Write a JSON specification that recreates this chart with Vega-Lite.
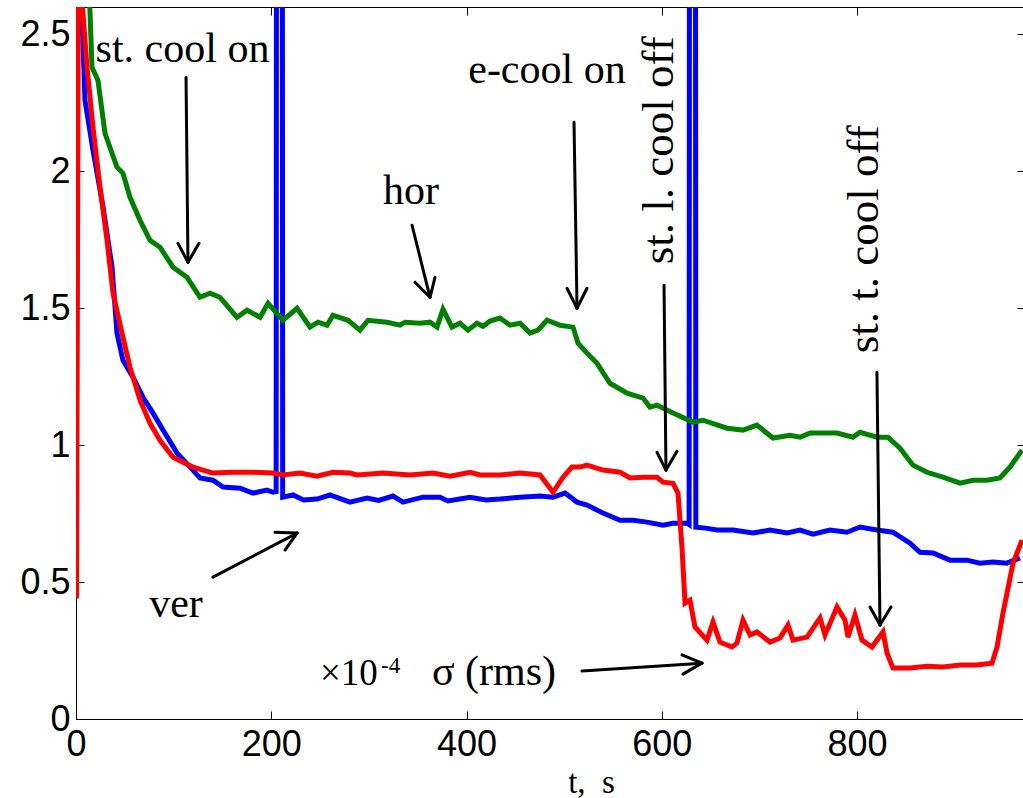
{
  "$schema": "https://vega.github.io/schema/vega-lite/v6.json",
  "width": 947,
  "height": 712,
  "autosize": "none",
  "padding": {"left": 76, "top": 7, "right": 0, "bottom": 79},
  "background": "white",
  "config": {
    "view": {"stroke": "black", "strokeWidth": 1},
    "axis": {"grid": false, "domainColor": "black", "tickColor": "black", "labelColor": "black", "titleColor": "black", "labelFont": "Liberation Sans", "labelFontSize": 36, "tickWidth": 1, "domainWidth": 1}
  },
  "datasets": {
    "curves": [
      {"s": "ver", "t": 2, "v": 3.0}, {"s": "ver", "t": 9.2, "v": 2.259}, {"s": "ver", "t": 17.4, "v": 2.077}, {"s": "ver", "t": 27.7, "v": 1.869}, {"s": "ver", "t": 36.9, "v": 1.65}, {"s": "ver", "t": 42.0, "v": 1.409}, {"s": "ver", "t": 48.1, "v": 1.31}, {"s": "ver", "t": 58.4, "v": 1.248}, {"s": "ver", "t": 68.6, "v": 1.175}, {"s": "ver", "t": 78.9, "v": 1.117}, {"s": "ver", "t": 89.1, "v": 1.055}, {"s": "ver", "t": 103.5, "v": 0.971}, {"s": "ver", "t": 119.8, "v": 0.909}, {"s": "ver", "t": 127.0, "v": 0.88}, {"s": "ver", "t": 140.3, "v": 0.872}, {"s": "ver", "t": 150.6, "v": 0.847}, {"s": "ver", "t": 168.0, "v": 0.843}, {"s": "ver", "t": 181.3, "v": 0.825}, {"s": "ver", "t": 195.6, "v": 0.836}, {"s": "ver", "t": 201.8, "v": 0.828}, {"s": "ver", "t": 205.0, "v": 0.83}, {"s": "ver", "t": 205.4, "v": 3.2}, {"s": "ver", "t": 211.3, "v": 3.2}, {"s": "ver", "t": 211.7, "v": 0.81}, {"s": "ver", "t": 222.3, "v": 0.818}, {"s": "ver", "t": 233.0, "v": 0.80}, {"s": "ver", "t": 246.9, "v": 0.803}, {"s": "ver", "t": 260.2, "v": 0.818}, {"s": "ver", "t": 280.6, "v": 0.792}, {"s": "ver", "t": 298.1, "v": 0.807}, {"s": "ver", "t": 310.0, "v": 0.798}, {"s": "ver", "t": 324.7, "v": 0.814}, {"s": "ver", "t": 334.9, "v": 0.792}, {"s": "ver", "t": 355.4, "v": 0.81}, {"s": "ver", "t": 372.8, "v": 0.81}, {"s": "ver", "t": 381.0, "v": 0.796}, {"s": "ver", "t": 403.6, "v": 0.81}, {"s": "ver", "t": 420.0, "v": 0.80}, {"s": "ver", "t": 434.3, "v": 0.803}, {"s": "ver", "t": 454.8, "v": 0.81}, {"s": "ver", "t": 475.3, "v": 0.814}, {"s": "ver", "t": 488.6, "v": 0.81}, {"s": "ver", "t": 500.9, "v": 0.825}, {"s": "ver", "t": 513.2, "v": 0.792}, {"s": "ver", "t": 523.4, "v": 0.781}, {"s": "ver", "t": 539.8, "v": 0.752}, {"s": "ver", "t": 557.2, "v": 0.726}, {"s": "ver", "t": 570.5, "v": 0.726}, {"s": "ver", "t": 584.9, "v": 0.719}, {"s": "ver", "t": 601.3, "v": 0.708}, {"s": "ver", "t": 611.5, "v": 0.715}, {"s": "ver", "t": 625.8, "v": 0.715}, {"s": "ver", "t": 628.0, "v": 0.71}, {"s": "ver", "t": 628.4, "v": 3.2}, {"s": "ver", "t": 634.5, "v": 3.2}, {"s": "ver", "t": 634.9, "v": 0.70}, {"s": "ver", "t": 645.0, "v": 0.697}, {"s": "ver", "t": 656.6, "v": 0.69}, {"s": "ver", "t": 673.0, "v": 0.69}, {"s": "ver", "t": 693.4, "v": 0.679}, {"s": "ver", "t": 710.8, "v": 0.69}, {"s": "ver", "t": 728.3, "v": 0.679}, {"s": "ver", "t": 741.6, "v": 0.69}, {"s": "ver", "t": 754.9, "v": 0.675}, {"s": "ver", "t": 772.3, "v": 0.69}, {"s": "ver", "t": 789.7, "v": 0.682}, {"s": "ver", "t": 803.0, "v": 0.701}, {"s": "ver", "t": 820.4, "v": 0.69}, {"s": "ver", "t": 836.8, "v": 0.682}, {"s": "ver", "t": 854.3, "v": 0.642}, {"s": "ver", "t": 864.5, "v": 0.609}, {"s": "ver", "t": 877.8, "v": 0.606}, {"s": "ver", "t": 895.2, "v": 0.58}, {"s": "ver", "t": 912.6, "v": 0.58}, {"s": "ver", "t": 925.9, "v": 0.569}, {"s": "ver", "t": 939.3, "v": 0.573}, {"s": "ver", "t": 953.6, "v": 0.569}, {"s": "ver", "t": 966.9, "v": 0.588},

      {"s": "hor", "t": 10.0, "v": 3.0}, {"s": "hor", "t": 16.4, "v": 2.38}, {"s": "hor", "t": 22.5, "v": 2.332}, {"s": "hor", "t": 29.7, "v": 2.139}, {"s": "hor", "t": 36.9, "v": 2.066}, {"s": "hor", "t": 42.0, "v": 2.015}, {"s": "hor", "t": 48.1, "v": 1.993}, {"s": "hor", "t": 55.3, "v": 1.905}, {"s": "hor", "t": 65.6, "v": 1.821}, {"s": "hor", "t": 75.8, "v": 1.748}, {"s": "hor", "t": 86.0, "v": 1.723}, {"s": "hor", "t": 99.4, "v": 1.65}, {"s": "hor", "t": 113.7, "v": 1.613}, {"s": "hor", "t": 127.0, "v": 1.54}, {"s": "hor", "t": 137.3, "v": 1.555}, {"s": "hor", "t": 147.5, "v": 1.54}, {"s": "hor", "t": 164.9, "v": 1.467}, {"s": "hor", "t": 175.2, "v": 1.493}, {"s": "hor", "t": 188.5, "v": 1.467}, {"s": "hor", "t": 196.7, "v": 1.518}, {"s": "hor", "t": 212.0, "v": 1.456}, {"s": "hor", "t": 226.4, "v": 1.5}, {"s": "hor", "t": 239.7, "v": 1.431}, {"s": "hor", "t": 247.9, "v": 1.449}, {"s": "hor", "t": 257.1, "v": 1.438}, {"s": "hor", "t": 263.2, "v": 1.474}, {"s": "hor", "t": 278.6, "v": 1.456}, {"s": "hor", "t": 290.9, "v": 1.42}, {"s": "hor", "t": 299.1, "v": 1.456}, {"s": "hor", "t": 318.5, "v": 1.449}, {"s": "hor", "t": 331.9, "v": 1.438}, {"s": "hor", "t": 337.0, "v": 1.449}, {"s": "hor", "t": 352.4, "v": 1.445}, {"s": "hor", "t": 362.6, "v": 1.449}, {"s": "hor", "t": 369.8, "v": 1.431}, {"s": "hor", "t": 375.9, "v": 1.496}, {"s": "hor", "t": 385.1, "v": 1.431}, {"s": "hor", "t": 393.3, "v": 1.445}, {"s": "hor", "t": 401.5, "v": 1.42}, {"s": "hor", "t": 410.7, "v": 1.445}, {"s": "hor", "t": 416.9, "v": 1.434}, {"s": "hor", "t": 424.1, "v": 1.453}, {"s": "hor", "t": 434.3, "v": 1.464}, {"s": "hor", "t": 444.5, "v": 1.438}, {"s": "hor", "t": 454.8, "v": 1.445}, {"s": "hor", "t": 465.0, "v": 1.409}, {"s": "hor", "t": 473.2, "v": 1.42}, {"s": "hor", "t": 482.4, "v": 1.456}, {"s": "hor", "t": 495.7, "v": 1.438}, {"s": "hor", "t": 509.1, "v": 1.431}, {"s": "hor", "t": 514.2, "v": 1.372}, {"s": "hor", "t": 523.4, "v": 1.336}, {"s": "hor", "t": 533.7, "v": 1.299}, {"s": "hor", "t": 547.0, "v": 1.226}, {"s": "hor", "t": 564.4, "v": 1.19}, {"s": "hor", "t": 580.8, "v": 1.172}, {"s": "hor", "t": 587.9, "v": 1.139}, {"s": "hor", "t": 595.1, "v": 1.146}, {"s": "hor", "t": 611.5, "v": 1.117}, {"s": "hor", "t": 632.0, "v": 1.084}, {"s": "hor", "t": 642.2, "v": 1.091}, {"s": "hor", "t": 666.8, "v": 1.062}, {"s": "hor", "t": 683.2, "v": 1.055}, {"s": "hor", "t": 697.5, "v": 1.073}, {"s": "hor", "t": 713.9, "v": 1.026}, {"s": "hor", "t": 731.3, "v": 1.036}, {"s": "hor", "t": 741.6, "v": 1.029}, {"s": "hor", "t": 751.8, "v": 1.044}, {"s": "hor", "t": 765.1, "v": 1.044}, {"s": "hor", "t": 779.5, "v": 1.044}, {"s": "hor", "t": 795.9, "v": 1.029}, {"s": "hor", "t": 803.0, "v": 1.047}, {"s": "hor", "t": 820.4, "v": 1.029}, {"s": "hor", "t": 831.7, "v": 1.029}, {"s": "hor", "t": 844.0, "v": 0.989}, {"s": "hor", "t": 857.3, "v": 0.927}, {"s": "hor", "t": 871.7, "v": 0.901}, {"s": "hor", "t": 888.0, "v": 0.883}, {"s": "hor", "t": 905.5, "v": 0.861}, {"s": "hor", "t": 918.8, "v": 0.872}, {"s": "hor", "t": 933.1, "v": 0.872}, {"s": "hor", "t": 946.4, "v": 0.88}, {"s": "hor", "t": 956.7, "v": 0.92}, {"s": "hor", "t": 969.0, "v": 0.982},

      {"s": "rms", "t": 0.5, "v": 0.44}, {"s": "rms", "t": 2.5, "v": 2.8}, {"s": "rms", "t": 11.3, "v": 2.38}, {"s": "rms", "t": 17.4, "v": 2.161}, {"s": "rms", "t": 24.6, "v": 1.942}, {"s": "rms", "t": 31.8, "v": 1.748}, {"s": "rms", "t": 37.9, "v": 1.555}, {"s": "rms", "t": 47.1, "v": 1.409}, {"s": "rms", "t": 55.3, "v": 1.285}, {"s": "rms", "t": 65.6, "v": 1.164}, {"s": "rms", "t": 75.8, "v": 1.08}, {"s": "rms", "t": 86.0, "v": 1.018}, {"s": "rms", "t": 99.4, "v": 0.956}, {"s": "rms", "t": 119.8, "v": 0.92}, {"s": "rms", "t": 140.3, "v": 0.898}, {"s": "rms", "t": 160.8, "v": 0.901}, {"s": "rms", "t": 181.3, "v": 0.901}, {"s": "rms", "t": 201.8, "v": 0.898}, {"s": "rms", "t": 212.0, "v": 0.891}, {"s": "rms", "t": 229.4, "v": 0.898}, {"s": "rms", "t": 246.9, "v": 0.887}, {"s": "rms", "t": 263.2, "v": 0.901}, {"s": "rms", "t": 280.6, "v": 0.898}, {"s": "rms", "t": 287.8, "v": 0.891}, {"s": "rms", "t": 314.5, "v": 0.898}, {"s": "rms", "t": 342.1, "v": 0.891}, {"s": "rms", "t": 365.7, "v": 0.898}, {"s": "rms", "t": 383.1, "v": 0.887}, {"s": "rms", "t": 403.6, "v": 0.901}, {"s": "rms", "t": 413.8, "v": 0.891}, {"s": "rms", "t": 434.3, "v": 0.891}, {"s": "rms", "t": 454.8, "v": 0.898}, {"s": "rms", "t": 475.3, "v": 0.891}, {"s": "rms", "t": 488.6, "v": 0.828}, {"s": "rms", "t": 498.8, "v": 0.883}, {"s": "rms", "t": 508.0, "v": 0.92}, {"s": "rms", "t": 516.2, "v": 0.92}, {"s": "rms", "t": 523.4, "v": 0.927}, {"s": "rms", "t": 539.8, "v": 0.909}, {"s": "rms", "t": 557.2, "v": 0.901}, {"s": "rms", "t": 567.5, "v": 0.88}, {"s": "rms", "t": 580.8, "v": 0.883}, {"s": "rms", "t": 595.1, "v": 0.883}, {"s": "rms", "t": 601.3, "v": 0.865}, {"s": "rms", "t": 611.5, "v": 0.861}, {"s": "rms", "t": 616.6, "v": 0.825}, {"s": "rms", "t": 620.7, "v": 0.628}, {"s": "rms", "t": 623.8, "v": 0.423}, {"s": "rms", "t": 628.9, "v": 0.434}, {"s": "rms", "t": 634.0, "v": 0.336}, {"s": "rms", "t": 646.3, "v": 0.288}, {"s": "rms", "t": 652.5, "v": 0.354}, {"s": "rms", "t": 659.6, "v": 0.281}, {"s": "rms", "t": 671.9, "v": 0.263}, {"s": "rms", "t": 677.0, "v": 0.277}, {"s": "rms", "t": 683.2, "v": 0.361}, {"s": "rms", "t": 690.4, "v": 0.307}, {"s": "rms", "t": 697.5, "v": 0.318}, {"s": "rms", "t": 710.8, "v": 0.281}, {"s": "rms", "t": 721.1, "v": 0.296}, {"s": "rms", "t": 729.3, "v": 0.343}, {"s": "rms", "t": 734.4, "v": 0.288}, {"s": "rms", "t": 748.8, "v": 0.299}, {"s": "rms", "t": 762.1, "v": 0.369}, {"s": "rms", "t": 767.2, "v": 0.307}, {"s": "rms", "t": 779.5, "v": 0.409}, {"s": "rms", "t": 787.7, "v": 0.361}, {"s": "rms", "t": 790.7, "v": 0.299}, {"s": "rms", "t": 797.9, "v": 0.38}, {"s": "rms", "t": 805.1, "v": 0.288}, {"s": "rms", "t": 815.3, "v": 0.263}, {"s": "rms", "t": 826.6, "v": 0.318}, {"s": "rms", "t": 830.7, "v": 0.241}, {"s": "rms", "t": 836.8, "v": 0.186}, {"s": "rms", "t": 854.3, "v": 0.186}, {"s": "rms", "t": 871.7, "v": 0.193}, {"s": "rms", "t": 888.0, "v": 0.19}, {"s": "rms", "t": 905.5, "v": 0.197}, {"s": "rms", "t": 922.9, "v": 0.197}, {"s": "rms", "t": 938.2, "v": 0.204}, {"s": "rms", "t": 943.4, "v": 0.263}, {"s": "rms", "t": 949.5, "v": 0.387}, {"s": "rms", "t": 959.8, "v": 0.569}, {"s": "rms", "t": 969.0, "v": 0.653}
    ],
    "arrows": [
      {"x1": 112.7, "y1": 2.343, "x2": 114.7, "y2": 1.668}, {"x1": 104.5, "y1": 1.737, "x2": 114.7, "y2": 1.668}, {"x1": 126.0, "y1": 1.737, "x2": 114.7, "y2": 1.668},
      {"x1": 344.2, "y1": 1.803, "x2": 362.6, "y2": 1.54}, {"x1": 347.2, "y1": 1.595, "x2": 362.6, "y2": 1.54}, {"x1": 367.7, "y1": 1.613, "x2": 362.6, "y2": 1.54},
      {"x1": 510.1, "y1": 2.179, "x2": 513.2, "y2": 1.5}, {"x1": 502.9, "y1": 1.573, "x2": 513.2, "y2": 1.5}, {"x1": 523.4, "y1": 1.573, "x2": 513.2, "y2": 1.5},
      {"x1": 602.3, "y1": 1.584, "x2": 604.3, "y2": 0.909}, {"x1": 595.1, "y1": 0.974, "x2": 604.3, "y2": 0.909}, {"x1": 615.6, "y1": 0.978, "x2": 604.3, "y2": 0.909},
      {"x1": 820.4, "y1": 1.266, "x2": 823.5, "y2": 0.343}, {"x1": 813.3, "y1": 0.409, "x2": 823.5, "y2": 0.343}, {"x1": 834.8, "y1": 0.409, "x2": 823.5, "y2": 0.343},
      {"x1": 140.3, "y1": 0.518, "x2": 226.4, "y2": 0.679}, {"x1": 203.8, "y1": 0.682, "x2": 226.4, "y2": 0.679}, {"x1": 214.1, "y1": 0.617, "x2": 226.4, "y2": 0.679},
      {"x1": 518.3, "y1": 0.175, "x2": 641.2, "y2": 0.204}, {"x1": 620.7, "y1": 0.234, "x2": 641.2, "y2": 0.204}, {"x1": 621.7, "y1": 0.164, "x2": 641.2, "y2": 0.204}
    ]
  },
  "resolve": {"axis": {"x": "independent", "y": "independent"}},
  "layer": [
    {
      "data": {"name": "curves"},
      "transform": [{"filter": "datum.s === 'ver'"}],
      "mark": {"type": "line", "color": "#0000ff", "strokeWidth": 5, "clip": true},
      "encoding": {
        "x": {"field": "t", "type": "quantitative", "scale": {"domain": [0, 970], "nice": false},
              "axis": {"orient": "bottom", "values": [0, 200, 400, 600, 800], "labelFlush": false, "labelOverlap": false, "tickSize": -8, "labelPadding": 16,
                       "title": "t,\u00a0\u00a0s", "titleFont": "Liberation Serif", "titleFontSize": 33, "titleFontWeight": "normal",
                       "titleX": 515, "titleY": 73, "titleAlign": "center", "titleBaseline": "alphabetic"}},
        "y": {"field": "v", "type": "quantitative", "scale": {"domain": [0, 2.6], "nice": false, "zero": false},
              "axis": {"orient": "left", "values": [0, 0.5, 1, 1.5, 2, 2.5], "format": "~g", "labelFlush": false, "labelOverlap": false, "tickSize": -8, "labelPadding": 14, "title": null}}
      }
    },
    {
      "data": {"name": "curves"},
      "transform": [{"filter": "datum.s === 'hor'"}],
      "mark": {"type": "line", "color": "#008000", "strokeWidth": 5, "clip": true},
      "encoding": {
        "x": {"field": "t", "type": "quantitative", "scale": {"domain": [0, 970], "nice": false}, "axis": null},
        "y": {"field": "v", "type": "quantitative", "scale": {"domain": [0, 2.6], "nice": false, "zero": false}, "axis": null}
      }
    },
    {
      "data": {"name": "curves"},
      "transform": [{"filter": "datum.s === 'rms'"}],
      "mark": {"type": "line", "color": "#ff0000", "strokeWidth": 5, "clip": true},
      "encoding": {
        "x": {"field": "t", "type": "quantitative", "scale": {"domain": [0, 970], "nice": false}, "axis": null},
        "y": {"field": "v", "type": "quantitative", "scale": {"domain": [0, 2.6], "nice": false, "zero": false}, "axis": null}
      }
    },
    {
      "data": {"name": "arrows"},
      "mark": {"type": "rule", "color": "black", "strokeWidth": 3, "strokeCap": "round"},
      "encoding": {
        "x": {"field": "x1", "type": "quantitative", "scale": {"domain": [0, 970], "nice": false},
              "axis": {"orient": "top", "values": [200, 400, 600, 800], "labels": false, "domain": false, "tickSize": -8, "title": null}},
        "x2": {"field": "x2"},
        "y": {"field": "y1", "type": "quantitative", "scale": {"domain": [0, 2.6], "nice": false, "zero": false},
              "axis": {"orient": "right", "values": [0.5, 1, 1.5, 2, 2.5], "labels": false, "domain": false, "tickSize": -6, "title": null}},
        "y2": {"field": "y2"}
      }
    },
    {
      "data": {"values": [
        {"t": 109.1, "v": 2.398, "label": "st. cool on"},
        {"t": 482.4, "v": 2.321, "label": "e-cool on"},
        {"t": 343.1, "v": 1.88, "label": "hor"},
        {"t": 102.4, "v": 0.372, "label": "ver"}
      ]},
      "mark": {"type": "text", "font": "Liberation Serif", "fontSize": 42, "align": "center", "baseline": "alphabetic", "color": "black"},
      "encoding": {
        "x": {"field": "t", "type": "quantitative", "scale": {"domain": [0, 970], "nice": false}, "axis": null},
        "y": {"field": "v", "type": "quantitative", "scale": {"domain": [0, 2.6], "nice": false, "zero": false}, "axis": null},
        "text": {"field": "label"}
      }
    },
    {
      "data": {"values": [
        {"t": 249.9, "v": 0.124, "label": "×10"}
      ]},
      "mark": {"type": "text", "font": "Liberation Serif", "fontSize": 37, "align": "left", "baseline": "alphabetic", "color": "black"},
      "encoding": {
        "x": {"field": "t", "type": "quantitative", "scale": {"domain": [0, 970], "nice": false}, "axis": null},
        "y": {"field": "v", "type": "quantitative", "scale": {"domain": [0, 2.6], "nice": false, "zero": false}, "axis": null},
        "text": {"field": "label"}
      }
    },
    {
      "data": {"values": [
        {"t": 364.6, "v": 0.124, "label": "σ (rms)"}
      ]},
      "mark": {"type": "text", "font": "Liberation Serif", "fontSize": 42, "align": "left", "baseline": "alphabetic", "color": "black"},
      "encoding": {
        "x": {"field": "t", "type": "quantitative", "scale": {"domain": [0, 970], "nice": false}, "axis": null},
        "y": {"field": "v", "type": "quantitative", "scale": {"domain": [0, 2.6], "nice": false, "zero": false}, "axis": null},
        "text": {"field": "label"}
      }
    },
    {
      "data": {"values": [
        {"t": 312.5, "v": 0.168, "label": "-4"}
      ]},
      "mark": {"type": "text", "font": "Liberation Serif", "fontSize": 23, "align": "left", "baseline": "alphabetic", "color": "black"},
      "encoding": {
        "x": {"field": "t", "type": "quantitative", "scale": {"domain": [0, 970], "nice": false}, "axis": null},
        "y": {"field": "v", "type": "quantitative", "scale": {"domain": [0, 2.6], "nice": false, "zero": false}, "axis": null},
        "text": {"field": "label"}
      }
    },
    {
      "data": {"values": [
        {"t": 611.5, "v": 2.077, "label": "st. l. cool off"},
        {"t": 821.5, "v": 1.752, "label": "st. t. cool off"}
      ]},
      "mark": {"type": "text", "font": "Liberation Serif", "fontSize": 45, "align": "center", "baseline": "alphabetic", "angle": 270, "color": "black"},
      "encoding": {
        "x": {"field": "t", "type": "quantitative", "scale": {"domain": [0, 970], "nice": false}, "axis": null},
        "y": {"field": "v", "type": "quantitative", "scale": {"domain": [0, 2.6], "nice": false, "zero": false}, "axis": null},
        "text": {"field": "label"}
      }
    }
  ]
}
